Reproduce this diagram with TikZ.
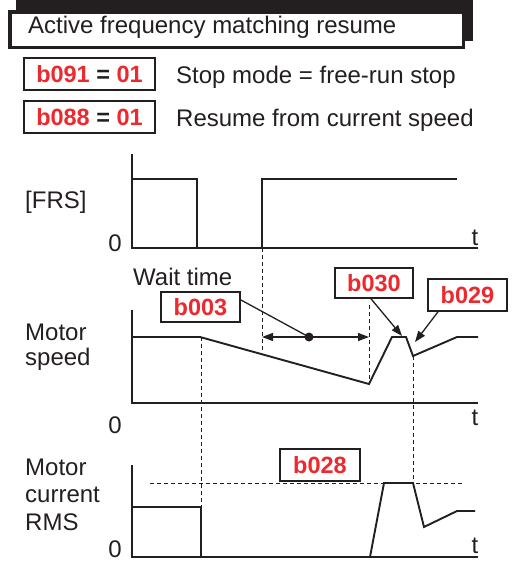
\documentclass[tikz,border=0pt]{standalone}
\usepackage{fontspec}
\setmainfont{Liberation Sans}
\usetikzlibrary{arrows.meta}
\definecolor{ink}{HTML}{231F20}
\definecolor{pred}{RGB}{237,41,46}
\begin{document}
\begin{tikzpicture}[x=1pt,y=-1pt,
  every node/.style={inner sep=0pt, text=ink},
  txt/.style={font=\fontsize{24}{28}\selectfont, anchor=base west},
  ctxt/.style={font=\fontsize{24}{28}\selectfont, anchor=base},
  pbox/.style={draw=ink, line width=1.6pt, fill=white, text=pred,
    font=\fontsize{23.5}{28}\selectfont\bfseries},
  axis/.style={draw=ink, line width=2pt, line join=miter},
  sig/.style={draw=ink, line width=1.9pt, line join=miter},
  guide/.style={draw=ink, line width=1pt, dash pattern=on 4pt off 3pt},
  pointer/.style={draw=ink, line width=1.3pt, -{Triangle[length=11pt,width=8pt]}},
  dbl/.style={draw=ink, line width=1.3pt, {Triangle[length=11pt,width=8pt]}-{Triangle[length=11pt,width=8pt]}}
]
\useasboundingbox (0,0) rectangle (518,562);

% ---- title ----
\fill[ink] (16,-2) rectangle (473,41);
\draw[ink, line width=3.5pt, fill=white] (9.75,11.75) rectangle (463.25,47.25);
\node[txt] (title) at (28,33) {Active frequency matching resume};

% ---- parameter settings ----
\node[pbox, minimum width=131pt, minimum height=32pt] (b091) at (89.5,74)
  {b091 {\color{ink}=} 01};
\node[txt] (stopmode) at (176,83) {Stop mode = free-run stop};
\node[pbox, minimum width=131pt, minimum height=32pt] (b088) at (89.5,117)
  {b088 {\color{ink}=} 01};
\node[txt] (resume) at (176,126) {Resume from current speed};

% ---- [FRS] ----
\node[txt] (frs) at (25,208) {[FRS]};
\node[ctxt] (z1) at (115,251) {0};
\node[ctxt] (t1) at (475,245) {t};
\draw[axis] (132,154) -- (132,248) -- (478,248);
\draw[sig] (132,179) -- (197,179) -- (197,248);
\draw[sig] (262,248) -- (262,179) -- (457,179);

% ---- motor speed ----
\node[txt] (ms1) at (25,340) {Motor};
\node[txt] (ms2) at (25,365) {speed};
\node[ctxt] (z2) at (115,433) {0};
\node[ctxt] (t2) at (475,425) {t};
\node[txt] (wait) at (133,285) {Wait time};
\draw[axis] (132,310) -- (132,403) -- (478,403);
\draw[sig] (132,337) -- (200,337) -- (369,384) -- (392,337) -- (406,337)
  -- (413,356) -- (457,337) -- (478,337);

% guides
\draw[guide] (262,248) -- (262,353);
\draw[guide] (369,305) -- (369,384);
\draw[guide] (201,337) -- (201,507);
\draw[guide] (413,356) -- (413,483);
\draw[guide] (150,483) -- (463,483);

% wait time arrow
\coordinate (wl) at (262,337);
\coordinate (wr) at (369,337);
\node[circle, fill=ink, minimum size=9pt] (dot) at (309,337) {};
\draw[dbl] (wl) -- (wr);

\node[pbox, minimum width=79pt, minimum height=30pt] (b003) at (200.5,307) {b003};
\draw[draw=ink, line width=1.3pt] (b003.10) -- (dot.center);

\node[pbox, minimum width=78pt, minimum height=30pt] (b030) at (374,283) {b030};
\coordinate (p030) at (402,336);
\draw[pointer] ([xshift=-3pt]b030.south) -- (p030);

\node[pbox, minimum width=79pt, minimum height=32pt] (b029) at (467.5,295) {b029};
\coordinate (p029) at (415,342);
\draw[pointer] ([xshift=-29.5pt]b029.south) -- (p029);

% ---- motor current ----
\node[txt] (mc1) at (25,475) {Motor};
\node[txt] (mc2) at (25,502) {current};
\node[txt] (mc3) at (25,530) {RMS};
\node[ctxt] (z3) at (115,557) {0};
\node[ctxt] (t3) at (475,553) {t};
\draw[axis] (132,465) -- (132,557) -- (478,557);
\draw[sig] (132,507) -- (201,507) -- (201,557);
\draw[sig] (370,557) -- (384,483) -- (413,483) -- (424,527) -- (457,511) -- (475,511);

\node[pbox, minimum width=80pt, minimum height=32pt] (b028) at (320,465) {b028};
\end{tikzpicture}
\end{document}
